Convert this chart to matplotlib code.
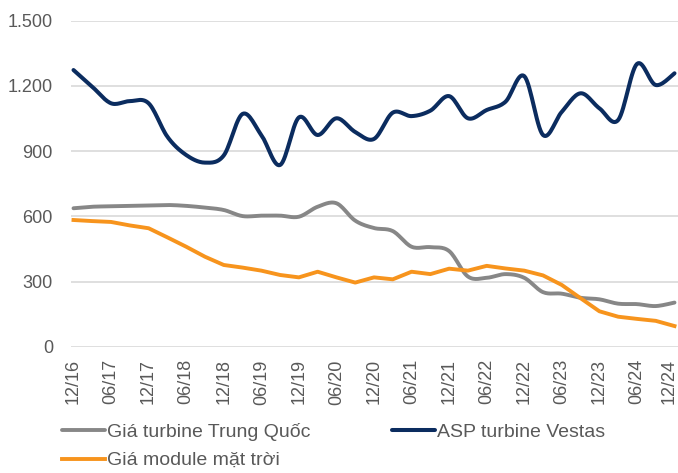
import matplotlib
matplotlib.use("Agg")
import matplotlib.pyplot as plt
import matplotlib.transforms as mtransforms
import numpy as np
from matplotlib.ticker import FuncFormatter

# quarterly points, 12/16 -> 12/24
quarters = ["12/16", "03/17", "06/17", "09/17", "12/17", "03/18", "06/18", "09/18",
            "12/18", "03/19", "06/19", "09/19", "12/19", "03/20", "06/20", "09/20",
            "12/20", "03/21", "06/21", "09/21", "12/21", "03/22", "06/22", "09/22",
            "12/22", "03/23", "06/23", "09/23", "12/23", "03/24", "06/24", "09/24",
            "12/24"]

vestas = [1273, 1196, 1120, 1130, 1120, 966, 882, 847, 880, 1071, 974, 836,
          1055, 974, 1051, 988, 956, 1077, 1061, 1086, 1153, 1051, 1089, 1127,
          1245, 974, 1081, 1166, 1097, 1043, 1301, 1204, 1258]

china = [637, 644, 646, 648, 650, 652, 648, 640, 629, 601, 603, 603, 598, 644,
         660, 580, 546, 532, 460, 458, 440, 323, 317, 334, 317, 251, 244, 225,
         218, 198, 196, 187, 203]

solar = [583, 578, 574, 558, 545, 503, 460, 414, 376, 364, 350, 330, 319, 345,
         319, 295, 319, 310, 345, 334, 359, 350, 372, 360, 350, 328, 284, 223,
         163, 138, 128, 119, 95]

names = ["Giá turbine Trung Quốc", "Giá module mặt trời", "ASP turbine Vestas"]


def smooth(x, y, n=16):
    # excel-like smoothed line (bezier through the points)
    x = np.asarray(x, float)
    y = np.asarray(y, float)
    xs, ys = [], []
    t = np.linspace(0, 1, n)
    for i in range(len(x) - 1):
        i0 = max(i - 1, 0)
        i3 = min(i + 2, len(x) - 1)
        p1 = np.array([x[i], y[i]])
        p2 = np.array([x[i + 1], y[i + 1]])
        c1 = p1 + (p2 - np.array([x[i0], y[i0]])) / 6
        c2 = p2 - (np.array([x[i3], y[i3]]) - p1) / 6
        pts = ((1 - t) ** 3)[:, None] * p1 + (3 * (1 - t) ** 2 * t)[:, None] * c1 \
            + (3 * (1 - t) * t ** 2)[:, None] * c2 + (t ** 3)[:, None] * p2
        xs.extend(pts[:, 0])
        ys.extend(pts[:, 1])
    return xs, ys


plt.rcParams['font.family'] = ['Liberation Sans', 'DejaVu Sans']

fig = plt.figure(figsize=(6.78, 4.73), dpi=100)
ax = fig.add_axes([71 / 678, 1 - 346.7 / 473, 607 / 678, 326 / 473])

x = np.arange(len(quarters))

sx, sy = smooth(x, china)
l1, = ax.plot(sx, sy, color="#878787", lw=2.8, solid_capstyle="round")
l2, = ax.plot(x, solar, color="#F7941D", lw=2.8, solid_joinstyle="round")
sx, sy = smooth(x, vestas)
l3, = ax.plot(sx, sy, color="#0B2C5F", lw=2.9, solid_capstyle="round")

ax.set_ylim(0, 1500)
ax.set_yticks(np.arange(0, 1501, 300))
ax.yaxis.set_major_formatter(FuncFormatter(lambda v, p: f"{v:,.0f}".replace(",", ".")))
# first point ~x=73.5px, last ~x=674.5px
step = (674.5 - 73.5) / (len(quarters) - 1)
ax.set_xlim(-(73.5 - 71) / step, len(quarters) - 1 + (678 - 674.5) / step)
ax.set_xticks(x[::2])
ax.set_xticklabels(quarters[::2], rotation=90)

ax.grid(axis="y", color="#D9D9D9", lw=1.2)
ax.set_axisbelow(True)
for s in ax.spines.values():
    s.set_visible(False)
ax.tick_params(axis="both", length=0, labelsize=13, colors="#595959")
ax.tick_params(axis="y", pad=13)
ax.tick_params(axis="x", pad=9)

# keep the last label inside the figure
last = ax.get_xticklabels()[-1]
last.set_transform(last.get_transform() +
                   mtransforms.ScaledTranslation(-4 / 72, 0, fig.dpi_scale_trans))

fig.legend([l1, l2, l3], names, ncol=2, loc="upper left",
           bbox_to_anchor=(62 / 678, 1 - 423 / 473), frameon=False,
           fontsize=14, handlelength=2.2, handletextpad=0.12,
           columnspacing=4.2, labelspacing=0.55, labelcolor="#595959",
           borderaxespad=0, borderpad=0)

fig.savefig("out.png", dpi=100)
